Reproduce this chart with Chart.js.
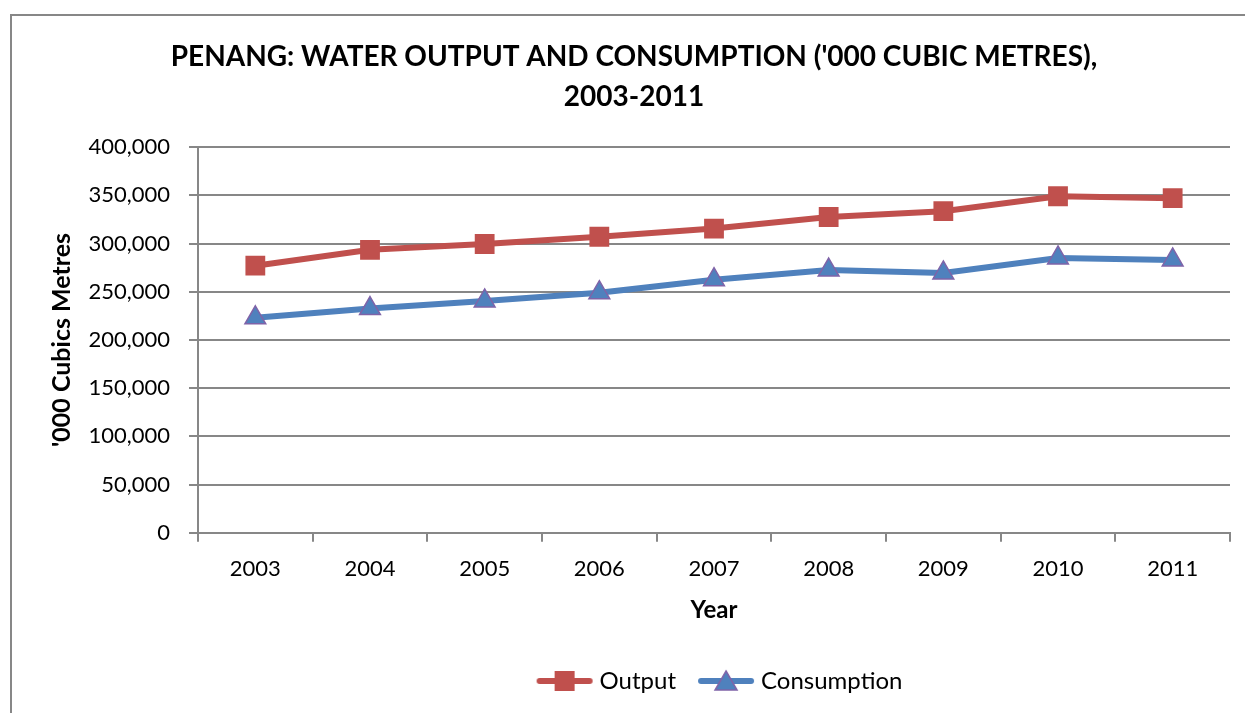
<!DOCTYPE html>
<html>
<head>
<meta charset="utf-8">
<script src="https://cdn.jsdelivr.net/npm/chart.js@4"></script>
<style>
  html, body { margin: 0; padding: 0; background: #fff; }
  #wrap { width: 1245px; height: 713px; position: relative; }
</style>
</head>
<body>
<div id="wrap"><canvas id="waterChart" width="1245" height="713"></canvas></div>
<script>
// Data
const years = ['2003', '2004', '2005', '2006', '2007', '2008', '2009', '2010', '2011'];
const outputValues = [277000, 293500, 299500, 307000, 315500, 327500, 333500, 349000, 347000];
const consumptionValues = [223000, 232500, 240500, 249000, 262500, 272500, 269500, 285000, 283000];
const yTicks = [0, 50000, 100000, 150000, 200000, 250000, 300000, 350000, 400000];

const RED = '#C0504D';
const BLUE = '#4F81BD';
const PURPLE = '#7F63A8';
const GRID = '#878787';
const FONT = 'Lato, "Open Sans", sans-serif';

// small legend icons: line with the marker on top
function legendIcon(color, style) {
    const c = document.createElement('canvas');
    c.width = 58;
    c.height = 24;
    const g = c.getContext('2d');
    g.strokeStyle = color;
    g.lineWidth = 6;
    g.lineCap = 'round';
    g.beginPath();
    g.moveTo(4, 12);
    g.lineTo(54, 12);
    g.stroke();
    if (style === 'rect') {
        g.fillStyle = color;
        g.fillRect(19, 2, 20, 20);
    } else {
        g.fillStyle = BLUE;
        g.strokeStyle = PURPLE;
        g.lineWidth = 1.5;
        g.beginPath();
        g.moveTo(29, 2);
        g.lineTo(40, 21);
        g.lineTo(18, 21);
        g.closePath();
        g.fill();
        g.stroke();
    }
    return c;
}

// outer frame around the chart; title and legend nudged right like the original
const framePlugin = {
    id: 'frame',
    afterLayout(chart) {
        if (chart.legend) {
            chart.legend.left += 100;
            chart.legend.right += 100;
        }
        if (chart.titleBlock) {
            chart.titleBlock.left += 12;
            chart.titleBlock.right += 12;
        }
    },
    beforeDraw(chart) {
        const ctx = chart.ctx;
        ctx.save();
        ctx.fillStyle = '#fff';
        ctx.fillRect(0, 0, chart.width, chart.height);
        ctx.strokeStyle = GRID;
        ctx.lineWidth = 2;
        ctx.strokeRect(11, 15, chart.width + 10, chart.height + 10);
        ctx.restore();
    }
};

const ctx = document.getElementById('waterChart').getContext('2d');
new Chart(ctx, {
    type: 'line',
    data: {
        labels: years,
        datasets: [{
            label: 'Output',
            data: outputValues,
            borderColor: RED,
            backgroundColor: RED,
            borderWidth: 6,
            pointStyle: 'rect',
            pointRadius: 14,
            pointBorderWidth: 0,
            pointBackgroundColor: RED,
            tension: 0
        }, {
            label: 'Consumption',
            data: consumptionValues,
            borderColor: BLUE,
            backgroundColor: BLUE,
            borderWidth: 6,
            pointStyle: 'triangle',
            pointRadius: 12,
            pointBorderWidth: 1.5,
            pointBorderColor: PURPLE,
            pointBackgroundColor: BLUE,
            tension: 0
        }]
    },
    options: {
        responsive: false,
        animation: false,
        layout: { padding: { left: 14, right: 15, top: 0, bottom: 10 } },
        plugins: {
            title: {
                display: true,
                text: ["PENANG: WATER OUTPUT AND CONSUMPTION ('000 CUBIC METRES),", '2003-2011'],
                color: '#000',
                font: { family: FONT, size: 28, weight: 'bold', lineHeight: 1.43 },
                padding: { top: 37, bottom: 30 }
            },
            legend: {
                position: 'bottom',
                labels: {
                    color: '#000',
                    font: { family: FONT, size: 24 },
                    usePointStyle: true,
                    pointStyleWidth: 46,
                    padding: 27,
                    generateLabels(chart) {
                        return chart.data.datasets.map((ds, i) => ({
                            text: ds.label,
                            fontColor: '#000',
                            pointStyle: legendIcon(ds.borderColor, ds.pointStyle),
                            hidden: false,
                            datasetIndex: i,
                            lineWidth: 0
                        }));
                    }
                }
            },
            tooltip: { enabled: false }
        },
        scales: {
            x: {
                offset: true,
                grid: {
                    offset: true,
                    drawOnChartArea: false,
                    drawTicks: true,
                    tickLength: 9,
                    color: GRID,
                    lineWidth: 2
                },
                border: { color: GRID, width: 2 },
                ticks: { color: '#000', font: { family: FONT, size: 22 }, padding: 14 },
                title: {
                    display: true,
                    text: 'Year',
                    color: '#000',
                    font: { family: FONT, size: 24, weight: 'bold' },
                    padding: { top: 0, bottom: 17 }
                }
            },
            y: {
                min: 0,
                max: 400000,
                afterBuildTicks(scale) {
                    scale.ticks = yTicks.map(v => ({ value: v }));
                },
                afterFit(scale) {
                    scale.width = 184;
                },
                grid: {
                    color: GRID,
                    lineWidth: 2,
                    drawTicks: true,
                    tickLength: 9
                },
                border: { color: GRID, width: 2 },
                ticks: {
                    color: '#000',
                    font: { family: FONT, size: 22 },
                    padding: 19,
                    callback: v => v.toLocaleString('en-US')
                },
                title: {
                    display: true,
                    text: "'000 Cubics Metres",
                    color: '#000',
                    font: { family: FONT, size: 25, weight: 'bold' },
                    padding: { top: 33, bottom: 0 }
                }
            }
        }
    },
    plugins: [framePlugin]
});
</script>
</body>
</html>
